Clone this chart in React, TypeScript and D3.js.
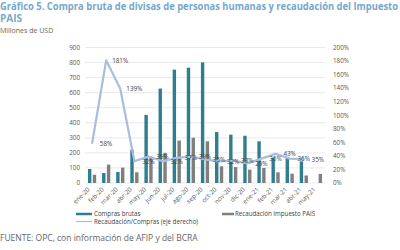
import React, { useEffect, useRef } from "react";
import * as d3 from "d3";

const months = ["ene-20", "feb-20", "mar-20", "abr-20", "may-20", "jun-20", "jul-20", "ago-20", "sep-20",
  "oct-20", "nov-20", "dic-20", "ene-21", "feb-21", "mar-21", "abr-21", "may-21"];
const compras = [93, 66, 73, 221, 452, 627, 753, 766, 801, 339, 321, 314, 277, 166, 173, 144, null];
const recaudacion = [55, 122, 102, 71, 176, 200, 282, 301, 277, 111, 106, 89, 100, 71, 62, 50, 60];
const ratio = [58, 181, 139, 32, 39, 32, 37, 39, 35, 32, 33, 29, 36, 43, 36, 35, null];
const leftTicks = [0, 100, 200, 300, 400, 500, 600, 700, 800, 900];
const rightTicks = [0, 20, 40, 60, 80, 100, 120, 140, 160, 180, 200];

export default function App() {
  const ref = useRef<SVGSVGElement>(null);

  useEffect(() => {
    const svg = d3.select(ref.current);
    svg.selectAll("*").remove();
    const font = "'Open Sans', 'Noto Sans', sans-serif";

    const x = d3.scaleBand().domain(months).range([85, 325]);
    const y = d3.scaleLinear().domain([0, 900]).range([183, 47.5]);
    const y2 = d3.scaleLinear().domain([0, 200]).range([183, 47.5]);
    const cx = (m: string) => (x(m) as number) + x.bandwidth() / 2;

    // title
    svg.append("text").attr("x", 0).attr("y", 10)
      .attr("font-family", font).attr("font-weight", "bold").attr("font-size", 10)
      .attr("fill", "#74a8cc").attr("textLength", 398).attr("lengthAdjust", "spacingAndGlyphs")
      .text("Gráfico 5. Compra bruta de divisas de personas humanas y recaudación del Impuesto");
    svg.append("text").attr("x", 0).attr("y", 22)
      .attr("font-family", font).attr("font-weight", "bold").attr("font-size", 10)
      .attr("fill", "#74a8cc").text("PAIS");
    svg.append("text").attr("x", 0).attr("y", 32.5)
      .attr("font-family", font).attr("font-size", 7).attr("fill", "#666").text("Millones de USD");

    // grid
    svg.append("g").selectAll("line").data(leftTicks).enter().append("line")
      .attr("x1", 85).attr("x2", 325)
      .attr("y1", d => y(d)).attr("y2", d => y(d))
      .attr("stroke", "#e3e3e3").attr("stroke-width", 0.8);

    svg.append("g").selectAll("text").data(leftTicks).enter().append("text")
      .attr("x", 80).attr("y", d => y(d) + 2.3).attr("text-anchor", "end")
      .attr("font-family", font).attr("font-size", 6.3).attr("fill", "#555")
      .text(d => d);

    svg.append("g").selectAll("text").data(rightTicks).enter().append("text")
      .attr("x", 333).attr("y", d => y2(d) + 2.3)
      .attr("font-family", font).attr("font-size", 6.3).attr("fill", "#555")
      .text(d => d + "%");

    // bars
    const bw = 3.4;
    svg.append("g").selectAll("rect").data(months).enter().filter((m, i) => compras[i] != null)
      .append("rect")
      .attr("x", m => cx(m) - 2.4 - bw / 2)
      .attr("y", (m) => y(compras[months.indexOf(m)] as number))
      .attr("width", bw)
      .attr("height", (m) => 183 - y(compras[months.indexOf(m)] as number))
      .attr("fill", "#2f7e90");

    svg.append("g").selectAll("rect").data(months).enter().append("rect")
      .attr("x", m => cx(m) + 2.4 - bw / 2)
      .attr("y", (m, i) => y(recaudacion[i]))
      .attr("width", bw)
      .attr("height", (m, i) => 183 - y(recaudacion[i]))
      .attr("fill", "#7f7f7f");

    // line
    const line = d3.line<number | null>()
      .defined(d => d != null)
      .x((d, i) => cx(months[i]))
      .y(d => y2(d as number));
    svg.append("path").datum(ratio).attr("d", line)
      .attr("fill", "none").attr("stroke", "#a8bde0").attr("stroke-width", 2.2)
      .attr("stroke-linejoin", "round");

    svg.append("g").selectAll("text").data(months).enter().filter((m, i) => ratio[i] != null)
      .append("text")
      .attr("x", m => cx(m) + 14)
      .attr("y", m => y2(ratio[months.indexOf(m)] as number) + 2.3)
      .attr("text-anchor", "middle")
      .attr("font-family", font).attr("font-size", 6.3).attr("fill", "#404040")
      .text(m => ratio[months.indexOf(m)] + "%");

    // x labels
    svg.append("g").selectAll("text").data(months).enter().append("text")
      .attr("transform", m => `translate(${cx(m) - 2},${190}) rotate(-45)`)
      .attr("text-anchor", "end")
      .attr("font-family", font).attr("font-size", 6.3).attr("fill", "#555")
      .text(m => m);

    // legend
    const lg = svg.append("g").attr("font-family", font).attr("font-size", 6.2).attr("fill", "#404040");
    lg.append("line").attr("x1", 76).attr("x2", 92).attr("y1", 214).attr("y2", 214)
      .attr("stroke", "#2f7e90").attr("stroke-width", 2.5);
    lg.append("text").attr("x", 94).attr("y", 216).text("Compras brutas");
    lg.append("line").attr("x1", 222).attr("x2", 234).attr("y1", 214).attr("y2", 214)
      .attr("stroke", "#7f7f7f").attr("stroke-width", 2.5);
    lg.append("text").attr("x", 235).attr("y", 216).text("Recaudación Impuesto PAIS");
    lg.append("line").attr("x1", 76).attr("x2", 92).attr("y1", 221.5).attr("y2", 221.5)
      .attr("stroke", "#a8bde0").attr("stroke-width", 1.2);
    lg.append("text").attr("x", 94).attr("y", 224).text("Recaudación/Compras (eje derecho)");

    svg.append("text").attr("x", 0).attr("y", 241)
      .attr("font-family", font).attr("font-size", 8.5).attr("fill", "#666")
      .text("FUENTE: OPC, con información de AFIP y del BCRA");
  }, []);

  return (
    <svg ref={ref} width={400} height={250}
      style={{ position: "absolute", left: 0, top: 0, background: "#fff" }} />
  );
}
